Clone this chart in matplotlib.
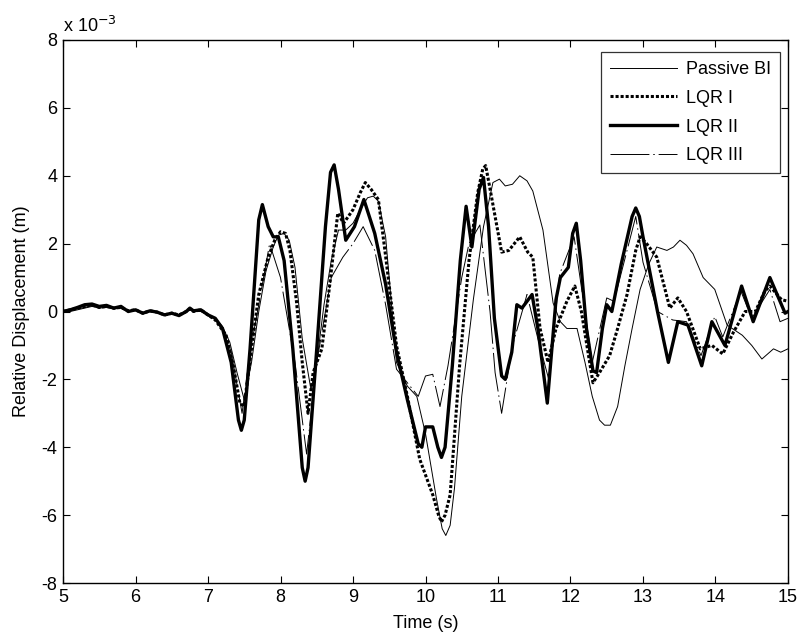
import matplotlib
matplotlib.use("Agg")
import matplotlib.pyplot as plt

plt.rcParams['font.family'] = ['Liberation Sans', 'DejaVu Sans']
plt.rcParams['axes.unicode_minus'] = False

# Relative displacement, in units of 1e-3 m
t_passive = [5.0, 5.1, 5.2, 5.3, 5.4, 5.5, 5.6, 5.7, 5.8, 5.9, 6.0, 6.1, 6.2, 6.3, 6.4, 6.5, 6.6, 6.7, 6.75, 6.8, 6.9, 7.0,
             7.1, 7.2, 7.3, 7.4, 7.5, 7.6, 7.7, 7.8, 7.9, 7.97, 8.05, 8.12, 8.2, 8.3, 8.42, 8.5, 8.6, 8.7, 8.8, 8.9, 9.0,
             9.1, 9.2, 9.28, 9.35, 9.45, 9.6, 9.75, 9.88, 10.0, 10.15, 10.23, 10.28, 10.34, 10.4, 10.5, 10.66, 10.8, 10.93,
             11.02, 11.1, 11.2, 11.3, 11.4, 11.48, 11.62, 11.76, 11.86, 11.95, 12.09, 12.2, 12.3, 12.4, 12.47, 12.55,
             12.65, 12.75, 12.85, 12.96, 13.08, 13.19, 13.33, 13.42, 13.51, 13.6, 13.69, 13.83, 13.99, 14.16, 14.37,
             14.5, 14.64, 14.72, 14.8, 14.9, 15.0]
passive = [0.0, 0.0, 0.05, 0.1, 0.15, 0.1, 0.12, 0.08, 0.1, 0.0, 0.03, -0.05, 0.0, -0.03, -0.08, -0.05, -0.1, -0.02, 0.05, 0.0, 0.0, -0.1,
           -0.2, -0.45, -0.9, -1.8, -2.6, -1.5, 0.0, 1.2, 1.9, 2.25, 2.3, 2.1, 1.3, -0.8, -2.3, -1.5, 0.2, 1.5, 2.4, 2.4, 2.6,
           3.0, 3.35, 3.4, 3.25, 2.2, -1.5, -2.2, -2.5, -3.6, -5.5, -6.4, -6.6, -6.3, -5.2, -2.5, 0.35, 2.5, 3.8,
           3.9, 3.7, 3.75, 4.0, 3.85, 3.55, 2.4, 0.25, -0.3, -0.5, -0.5, -1.5, -2.5, -3.2, -3.35, -3.35,
           -2.8, -1.6, -0.5, 0.65, 1.4, 1.9, 1.8, 1.9, 2.1, 1.95, 1.7, 1.0, 0.65, -0.4, -0.7,
           -1.0, -1.4, -1.25, -1.1, -1.2, -1.1]

t_lqr1 = [5.0, 5.1, 5.2, 5.3, 5.4, 5.5, 5.6, 5.7, 5.8, 5.9, 6.0, 6.1, 6.2, 6.3, 6.4, 6.5, 6.6, 6.7, 6.75, 6.8, 6.9, 7.0,
          7.1, 7.25, 7.35, 7.44, 7.5, 7.6, 7.7, 7.83, 7.92, 8.0, 8.07, 8.13, 8.22, 8.3, 8.38, 8.45, 8.57, 8.68, 8.79,
          8.87, 9.0, 9.1, 9.17, 9.25, 9.35, 9.44, 9.6, 9.75, 9.92, 10.1, 10.18, 10.22, 10.27, 10.34, 10.47, 10.6,
          10.72, 10.79, 10.83, 10.9, 11.05, 11.15, 11.3, 11.41, 11.48, 11.58, 11.69, 11.8, 11.95, 12.06, 12.15,
          12.31, 12.4, 12.54, 12.65, 12.78, 12.9, 12.96, 13.05, 13.19, 13.37, 13.48, 13.6, 13.79, 13.95, 14.1,
          14.25, 14.41, 14.55, 14.68, 14.75, 14.91, 15.0]
lqr1 = [0.0, 0.05, 0.1, 0.15, 0.2, 0.12, 0.15, 0.1, 0.12, 0.02, 0.05, -0.05, 0.02, -0.02, -0.1, -0.05, -0.1, 0.0, 0.08, 0.0, 0.05, -0.1,
        -0.25, -0.7, -1.6, -2.7, -2.8, -1.1, 0.5, 1.6, 2.1, 2.35, 2.3, 1.8, 0.3, -1.5, -3.0, -1.8, -1.1, 0.8, 2.9,
        2.6, 3.0, 3.5, 3.8, 3.6, 3.3, 1.8, -1.0, -2.5, -4.35, -5.4, -6.0, -6.2, -6.0, -5.4, -1.6, 1.5,
        3.5, 4.2, 4.3, 3.5, 1.75, 1.8, 2.2, 1.75, 1.6, -0.5, -1.5, -0.5, 0.3, 0.75, 0.0,
        -2.1, -1.8, -1.3, -0.5, 0.5, 1.8, 2.2, 2.0, 1.6, 0.1, 0.4, 0.0, -1.1, -1.0, -1.25,
        -0.6, 0.0, 0.0, 0.6, 0.75, 0.35, 0.3]

t_lqr2 = [5.0, 5.1, 5.2, 5.3, 5.4, 5.5, 5.6, 5.7, 5.8, 5.9, 6.0, 6.1, 6.2, 6.3, 6.4, 6.5, 6.6, 6.7, 6.75, 6.8, 6.9, 7.0,
          7.1, 7.2, 7.32, 7.42, 7.46, 7.5, 7.58, 7.7, 7.75, 7.83, 7.9, 7.97, 8.05, 8.17, 8.3, 8.34, 8.38, 8.5, 8.62,
          8.69, 8.74, 8.8, 8.9, 9.02, 9.15, 9.3, 9.45, 9.6, 9.75, 9.9, 9.95, 10.0, 10.1, 10.17, 10.22, 10.27, 10.37,
          10.48, 10.56, 10.64, 10.74, 10.8, 10.87, 10.95, 11.05, 11.1, 11.19, 11.26, 11.33, 11.47, 11.55, 11.68,
          11.8, 11.86, 11.97, 12.03, 12.08, 12.14, 12.22, 12.31, 12.36, 12.44, 12.5, 12.57, 12.7, 12.85, 12.9,
          12.95, 13.0, 13.2, 13.35, 13.48, 13.62, 13.81, 13.95, 14.13, 14.36, 14.52, 14.75, 14.85, 14.96, 15.0]
lqr2 = [0.0, 0.05, 0.12, 0.2, 0.22, 0.15, 0.18, 0.1, 0.15, 0.0, 0.05, -0.05, 0.02, -0.02, -0.1, -0.05, -0.12, 0.0, 0.1, 0.02, 0.05, -0.1,
        -0.2, -0.5, -1.5, -3.2, -3.5, -3.2, -1.1, 2.7, 3.15, 2.5, 2.2, 2.2, 1.5, -1.1, -4.6, -5.0, -4.6, -1.1, 2.5,
        4.1, 4.32, 3.6, 2.1, 2.5, 3.3, 2.3, 0.8, -1.2, -2.6, -3.9, -4.0, -3.4, -3.4, -4.0, -4.3, -4.0, -1.6,
        1.5, 3.1, 1.9, 3.6, 3.95, 2.5, -0.2, -1.9, -2.0, -1.2, 0.2, 0.1, 0.5, -0.5, -2.7,
        0.35, 1.0, 1.3, 2.3, 2.6, 1.5, -0.5, -1.75, -1.8, -0.5, 0.2, 0.0, 1.4, 2.8, 3.05,
        2.8, 2.2, 0.0, -1.5, -0.3, -0.4, -1.6, -0.3, -1.0, 0.75, -0.3, 1.0, 0.5, -0.05, 0.0]

t_lqr3 = [5.0, 5.1, 5.2, 5.3, 5.4, 5.5, 5.6, 5.7, 5.8, 5.9, 6.0, 6.1, 6.2, 6.3, 6.4, 6.5, 6.6, 6.7, 6.75, 6.8, 6.9, 7.0,
          7.1, 7.2, 7.32, 7.47, 7.58, 7.7, 7.85, 8.0, 8.2, 8.36, 8.5, 8.7, 8.86, 9.0, 9.14, 9.3, 9.45, 9.6, 9.9,
          10.0, 10.1, 10.2, 10.31, 10.5, 10.6, 10.75, 10.89, 10.96, 11.05, 11.2, 11.4, 11.55, 11.7, 11.85, 12.05,
          12.3, 12.5, 12.6, 12.9, 13.0, 13.2, 13.41, 13.6, 13.8, 13.99, 14.1, 14.35, 14.5, 14.75, 14.89, 15.0]
lqr3 = [0.0, 0.02, 0.08, 0.12, 0.18, 0.1, 0.12, 0.08, 0.1, 0.0, 0.03, -0.05, 0.0, -0.03, -0.08, -0.05, -0.1, 0.0, 0.05, 0.0, 0.03, -0.1,
        -0.2, -0.45, -1.2, -3.0, -1.2, 0.2, 2.0, 1.0, -1.5, -4.2, -1.5, 1.0, 1.6, 2.0, 2.5, 1.8, 0.2, -1.7, -2.5,
        -1.9, -1.85, -2.8, -1.6, 1.0, 2.0, 2.55, 0.0, -1.8, -3.0, -1.0, 0.5, -0.8, -2.0, 1.1, 2.2,
        -1.5, 0.4, 0.3, 2.8, 1.45, 0.0, -0.25, -0.3, -1.3, -0.15, -0.75, 0.6, -0.2, 0.65, -0.3, -0.2]

labels = ['Passive BI', 'LQR I', 'LQR II', 'LQR III']
x_ticks = list(range(5, 16))
y_ticks = list(range(-8, 9, 2))

fig = plt.figure(figsize=(8.03, 6.41), dpi=100)
ax = fig.add_axes([63 / 803, 1 - 583 / 641, (788 - 63) / 803, (583 - 40) / 641])

ax.plot(t_passive, passive, color='black', lw=0.7, label=labels[0])
ax.plot(t_lqr1, lqr1, color='black', lw=2.2, linestyle=(0, (1, 0.65)), label=labels[1])
ax.plot(t_lqr2, lqr2, color='black', lw=2.4, label=labels[2])
ax.plot(t_lqr3, lqr3, color='black', lw=0.7, linestyle=(0, (40, 4, 1.5, 4)), label=labels[3])

ax.set_xlim(5, 15)
ax.set_ylim(-8, 8)
ax.set_xticks(x_ticks)
ax.set_yticks(y_ticks)
ax.tick_params(direction='in', top=True, right=True, length=5, width=0.8, labelsize=13, pad=4)
for s in ax.spines.values():
    s.set_linewidth(1.0)

ax.set_xlabel('Time (s)', fontsize=13, labelpad=7)
ax.set_ylabel('Relative Displacement (m)', fontsize=13, labelpad=8)
ax.text(0.0, 1.008, r'x 10$^{-3}$', transform=ax.transAxes, fontsize=13, ha='left', va='bottom')

leg = ax.legend(loc='upper right', fontsize=13, frameon=True, fancybox=False, edgecolor='black',
                handlelength=3.7, handletextpad=0.5, labelspacing=0.65, borderpad=0.5,
                borderaxespad=0.0, bbox_to_anchor=(1 - 8 / 725, 1 - 12 / 543))
leg.get_frame().set_linewidth(0.9)

fig.savefig('out.png', dpi=100)
